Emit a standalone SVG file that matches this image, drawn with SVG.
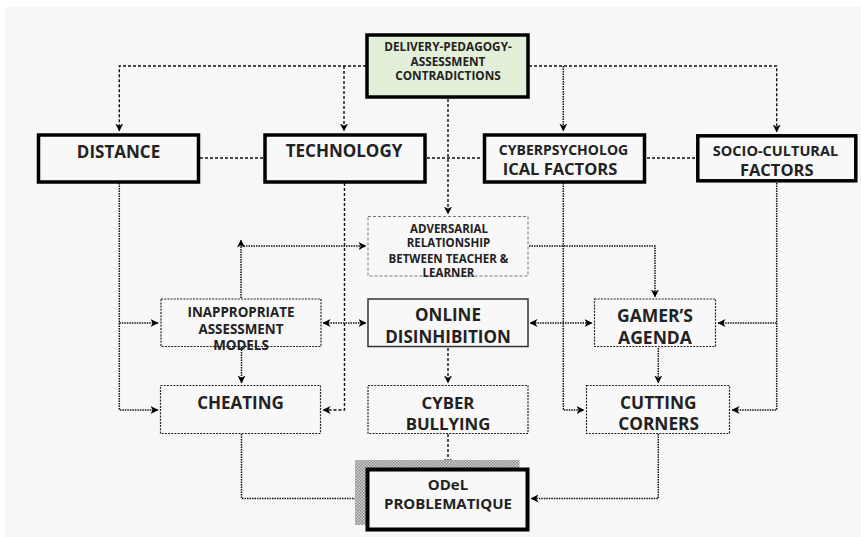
<svg xmlns="http://www.w3.org/2000/svg" width="861" height="537" viewBox="0 0 861 537">
  <style>
    .lbl { font-family: "Open Sans", "Liberation Sans", sans-serif; font-weight: 700; fill: #222; text-anchor: middle; }
    .thick { fill: #f8f8f8; stroke: #000; stroke-width: 3.5; }
    .thin { fill: #f8f8f8; stroke: #222; stroke-width: 1.2; stroke-dasharray: 2 1.2; }
    .grey { fill: #f8f8f8; stroke: #777; stroke-width: 1; stroke-dasharray: 3 2; }
    .solid { fill: #f8f8f8; stroke: #333; stroke-width: 1.5; }
    .wire { fill: none; stroke: #111; stroke-width: 1.4; stroke-dasharray: 3 2; }
    .dots { fill: none; stroke: #111; stroke-width: 1.5; stroke-dasharray: 1.5 1; }
  </style>
  <defs>
    <marker id="arr" viewBox="0 0 8 8" refX="7.5" refY="4" markerWidth="8" markerHeight="8" markerUnits="userSpaceOnUse" orient="auto-start-reverse">
      <path d="M0,0 L8,4 L0,8 L2.2,4 z" fill="#000"/>
    </marker>
    <pattern id="hatch" width="3" height="3" patternUnits="userSpaceOnUse">
      <rect width="3" height="3" fill="#d4d4d4"/>
      <rect width="1.5" height="1.5" fill="#8a8a8a"/>
      <rect x="1.5" y="1.5" width="1.5" height="1.5" fill="#8a8a8a"/>
    </pattern>
  </defs>

  <!-- page -->
  <rect x="0" y="0" width="861" height="537" fill="#ffffff"/>
  <rect x="5" y="7" width="856" height="530" fill="#f7f7f7"/>

  <!-- connectors -->
  <g id="connectors">
    <!-- from the contradictions box to the four factor boxes -->
    <path class="wire" d="M366,66 H119.3 V131" marker-end="url(#arr)"/>
    <path class="wire" d="M344,66 V131" marker-end="url(#arr)"/>
    <path class="wire" d="M529,66 H776.7 V132" marker-end="url(#arr)"/>
    <path class="dots" d="M563.3,66 V131" marker-end="url(#arr)"/>
    <path class="wire" d="M448,99 V214" marker-end="url(#arr)"/>

    <!-- links between the factor boxes -->
    <path class="wire" d="M200,158 H263"/>
    <path class="wire" d="M427,158 H482"/>
    <path class="wire" d="M647,158 H696"/>

    <!-- distance -->
    <path class="dots" d="M119.3,183 V410 H158" marker-end="url(#arr)"/>
    <path class="dots" d="M119.3,323 H158" marker-end="url(#arr)"/>

    <!-- technology -->
    <path class="wire" d="M344.5,183 V410 H323" marker-end="url(#arr)"/>

    <!-- cyberpsychological factors -->
    <path class="dots" d="M563.3,183 V410 H584" marker-end="url(#arr)"/>

    <!-- socio-cultural factors -->
    <path class="dots" d="M776.7,183 V410 H732" marker-end="url(#arr)"/>
    <path class="dots" d="M776.7,323 H718" marker-end="url(#arr)"/>

    <!-- assessment models and adversarial relationship -->
    <path class="dots" d="M241,298 V240" marker-end="url(#arr)"/>
    <path class="dots" d="M241,246 H366" marker-end="url(#arr)"/>
    <path class="dots" d="M529,246 H655 V297" marker-end="url(#arr)"/>

    <!-- middle row, two-way links -->
    <path class="dots" d="M323,323 H366" marker-start="url(#arr)" marker-end="url(#arr)"/>
    <path class="dots" d="M530,323 H592" marker-start="url(#arr)" marker-end="url(#arr)"/>

    <!-- middle row to bottom row -->
    <path class="dots" d="M241.5,347 V383" marker-end="url(#arr)"/>
    <path class="wire" d="M448,348 V383" marker-end="url(#arr)"/>
    <path class="dots" d="M658.3,348 V383" marker-end="url(#arr)"/>

    <!-- into the problematique -->
    <path class="dots" d="M241.5,434 V498.5 H364" marker-end="url(#arr)"/>
    <path class="wire" d="M448,434 V466" marker-end="url(#arr)"/>
    <path class="dots" d="M658.3,434 V498.5 H531" marker-end="url(#arr)"/>
  </g>

  <!-- nodes -->
  <g id="contradictions">
    <rect x="367" y="35" width="161" height="62" fill="#e2f0d9" stroke="#000" stroke-width="3.5"/>
    <text class="lbl" font-size="11.8" x="448" y="51">DELIVERY-PEDAGOGY-</text>
    <text class="lbl" font-size="11.8" x="448" y="65.5">ASSESSMENT</text>
    <text class="lbl" font-size="11.8" x="448" y="80">CONTRADICTIONS</text>
  </g>

  <g id="distance">
    <rect class="thick" x="38.5" y="135" width="160" height="47"/>
    <text class="lbl" font-size="17" x="118.5" y="158">DISTANCE</text>
  </g>

  <g id="technology">
    <rect class="thick" x="265" y="135" width="160" height="47"/>
    <text class="lbl" font-size="17" x="344" y="156.5">TECHNOLOGY</text>
  </g>

  <g id="cyberpsychological">
    <rect class="thick" x="484.5" y="135" width="160" height="47"/>
    <text class="lbl" font-size="14" x="563.5" y="154.5">CYBERPSYCHOLOG</text>
    <text class="lbl" font-size="16.5" x="560" y="174.5">ICAL FACTORS</text>
  </g>

  <g id="socio-cultural">
    <rect class="thick" x="697.8" y="135.8" width="158" height="45"/>
    <text class="lbl" font-size="14.5" x="775.5" y="156.3">SOCIO-CULTURAL</text>
    <text class="lbl" font-size="16.5" x="776.7" y="176.3">FACTORS</text>
  </g>

  <g id="adversarial">
    <rect class="grey" x="368" y="216.5" width="160" height="59.5"/>
    <text class="lbl" font-size="11.5" x="449" y="232.5">ADVERSARIAL</text>
    <text class="lbl" font-size="11.5" x="448.5" y="247">RELATIONSHIP</text>
    <text class="lbl" font-size="11.5" x="448.5" y="262.5">BETWEEN TEACHER &amp;</text>
    <text class="lbl" font-size="11.5" x="448.5" y="277.3">LEARNER</text>
  </g>

  <g id="assessment-models">
    <rect class="thin" x="161" y="299" width="160" height="47.5"/>
    <text class="lbl" font-size="13.4" x="241" y="317">INAPPROPRIATE</text>
    <text class="lbl" font-size="13.4" x="241" y="333.5">ASSESSMENT</text>
    <text class="lbl" font-size="13.4" x="241" y="349.8">MODELS</text>
  </g>

  <g id="online-disinhibition">
    <rect class="solid" x="368" y="299" width="160" height="47.5"/>
    <text class="lbl" font-size="17" x="448" y="320.7">ONLINE</text>
    <text class="lbl" font-size="17" x="448" y="343.3">DISINHIBITION</text>
  </g>

  <g id="gamers-agenda">
    <rect class="thin" x="594.5" y="299" width="121" height="47.5" stroke-width="1.5"/>
    <text class="lbl" font-size="17.5" x="655" y="322">GAMER’S</text>
    <text class="lbl" font-size="17.5" x="655" y="343.6">AGENDA</text>
  </g>

  <g id="cheating">
    <rect class="thin" x="160.5" y="385.5" width="160" height="48"/>
    <text class="lbl" font-size="17" x="240.5" y="408.6">CHEATING</text>
  </g>

  <g id="cyber-bullying">
    <rect class="thin" x="368" y="385.5" width="160" height="48"/>
    <text class="lbl" font-size="16.8" x="448" y="408.6">CYBER</text>
    <text class="lbl" font-size="16.8" x="448" y="430.3">BULLYING</text>
  </g>

  <g id="cutting-corners">
    <rect class="thin" x="586.5" y="385.5" width="143" height="48"/>
    <text class="lbl" font-size="17.3" x="658.3" y="408.6">CUTTING</text>
    <text class="lbl" font-size="17.3" x="658.6" y="429.6">CORNERS</text>
  </g>

  <g id="problematique">
    <path d="M355,460 H519.5 V468 H366 V525 H355 z" fill="url(#hatch)"/>
    <rect x="367.5" y="469.5" width="160" height="60" fill="#f8f8f8" stroke="#000" stroke-width="4"/>
    <text class="lbl" font-size="15" x="448" y="490.3">ODeL</text>
    <text class="lbl" font-size="15" x="448" y="508.6">PROBLEMATIQUE</text>
  </g>
</svg>
